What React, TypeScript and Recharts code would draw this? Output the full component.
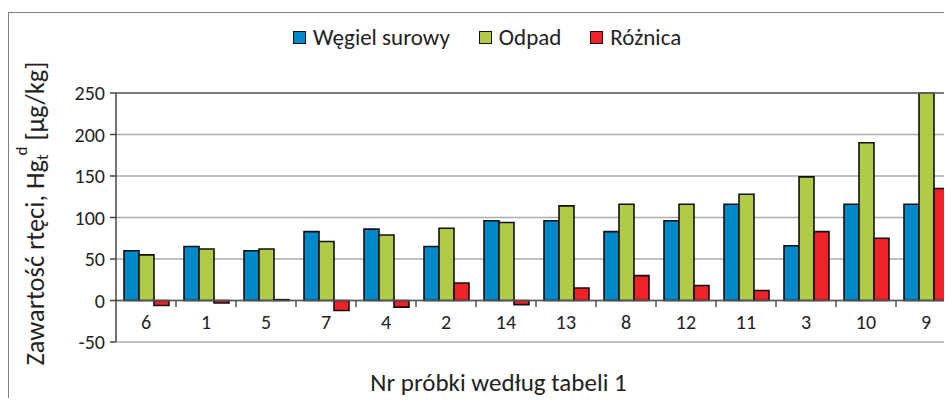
import React from 'react';
import { BarChart, Bar, XAxis, YAxis, CartesianGrid, ReferenceLine } from 'recharts';

const categories = ['6', '1', '5', '7', '4', '2', '14', '13', '8', '12', '11', '3', '10', '9'];
const wegielSurowy = [60, 65, 60, 83, 86, 65, 96, 96, 83, 96, 116, 66, 116, 116];
const odpad = [55, 62, 62, 71, 79, 87, 94, 114, 116, 116, 128, 149, 190, 250];
const roznica = [-6, -3, 1, -12, -8, 21, -5, 15, 30, 18, 12, 83, 75, 135];
const yTicks = [-50, 0, 50, 100, 150, 200, 250];
const seriesKeys = ['wegiel', 'odpad', 'roznica'];
const seriesNames = ['Węgiel surowy', 'Odpad', 'Różnica'];
const seriesColors = ['#0089c9', '#afcb47', '#ed2329'];
const xTitle = 'Nr próbki według tabeli 1';

const data = categories.map((c, i) => ({
  cat: c,
  wegiel: wegielSurowy[i],
  odpad: odpad[i],
  roznica: roznica[i],
}));

const FONT = 'Carlito, Lato, sans-serif';

const XTick = (props: any) => {
  const { x, y, payload, index } = props;
  const half = payload && payload.offset ? payload.offset : 30;
  return (
    <g>
      {index > 0 && (
        <line x1={x - half} x2={x - half} y1={y - 42} y2={y - 35} stroke="#555" strokeWidth={1.5} />
      )}
      <text x={x} y={y - 20} textAnchor="middle" dominantBaseline="central" fontSize={20} fontFamily={FONT} fill="#222">
        {payload.value}
      </text>
    </g>
  );
};

const YLabel = (props: any) => {
  const vb = props.viewBox || { x: 0, y: 85, width: 108, height: 249 };
  const cx = vb.x + 27;
  const cy = vb.y + vb.height / 2 - 4;
  return (
    <text
      x={cx}
      y={cy}
      transform={`rotate(-90, ${cx}, ${cy})`}
      textAnchor="middle"
      dominantBaseline="central"
      fontSize={26.5}
      fontFamily={FONT}
      fill="#222"
    >
      Zawartość rtęci, Hg
      <tspan dy={7} fontSize={17}>t</tspan>
      <tspan dx={-1} dy={-21} fontSize={17}>d</tspan>
      <tspan dy={14}> [µg/kg]</tspan>
    </text>
  );
};

export default function App() {
  return (
    <div style={{ position: 'relative', width: 944, height: 390, overflow: 'hidden', fontFamily: FONT }}>
      <div
        style={{
          position: 'absolute',
          left: 0,
          top: 4,
          width: 1200,
          height: 600,
          borderLeft: '1.5px solid #7f7f7f',
          borderTop: '1.5px solid #7f7f7f',
        }}
      />
      <div
        style={{
          position: 'absolute',
          left: 285,
          top: 16,
          display: 'flex',
          alignItems: 'center',
          fontSize: 23,
          color: '#222',
          lineHeight: '26px',
        }}
      >
        {seriesNames.map((n, i) => (
          <div key={n} style={{ display: 'flex', alignItems: 'center', marginRight: 29 }}>
            <div
              style={{
                width: 11,
                height: 11,
                background: seriesColors[i],
                border: '1px solid #111',
                marginRight: 7,
              }}
            />
            <span>{n}</span>
          </div>
        ))}
      </div>
      <div
        style={{
          position: 'absolute',
          left: 0,
          width: 981,
          top: 359,
          textAlign: 'center',
          fontSize: 25,
          color: '#222',
        }}
      >
        {xTitle}
      </div>
      <div style={{ position: 'absolute', left: 0, top: 0 }}>
        <BarChart
          width={960}
          height={390}
          data={data}
          margin={{ top: 85, right: 12, bottom: 36, left: 0 }}
          barGap={0}
          barSize={15}
        >
          <CartesianGrid horizontal vertical={false} stroke="#ababab" strokeWidth={1.5} />
          <XAxis
            dataKey="cat"
            height={20}
            axisLine={false}
            tickLine={false}
            tickSize={0}
            tickMargin={0}
            interval={0}
            tick={<XTick />}
          />
          <YAxis
            width={108}
            domain={[-50, 250]}
            ticks={yTicks}
            interval={0}
            tick={{ fontSize: 20, fill: '#222', fontFamily: FONT }}
            tickSize={6}
            tickMargin={5}
            axisLine={{ stroke: '#444', strokeWidth: 1.5 }}
            tickLine={{ stroke: '#444', strokeWidth: 1.5 }}
            label={{ content: (p: any) => <YLabel {...p} /> }}
          />
          <ReferenceLine y={250} stroke="#666" strokeWidth={1.5} />
          {seriesKeys.map((k, i) => (
            <Bar
              key={k}
              dataKey={k}
              name={seriesNames[i]}
              fill={seriesColors[i]}
              stroke="#111"
              strokeWidth={1.6}
              isAnimationActive={false}
            />
          ))}
          <ReferenceLine y={0} stroke="#555" strokeWidth={1.5} />
        </BarChart>
      </div>
    </div>
  );
}
